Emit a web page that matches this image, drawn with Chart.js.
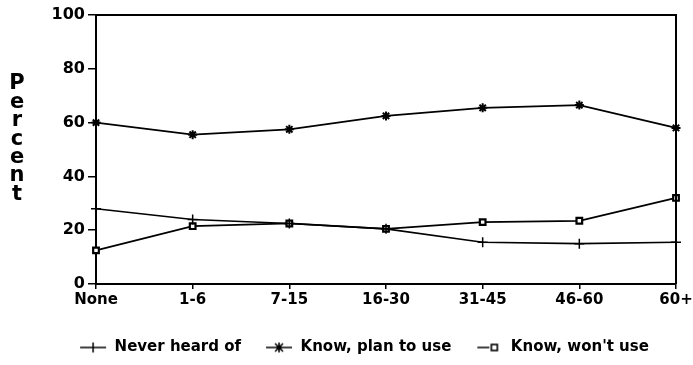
<!DOCTYPE html>
<html>
<head>
<meta charset="utf-8">
<script src="https://cdn.jsdelivr.net/npm/chart.js@4"></script>
<style>
  html, body { margin: 0; padding: 0; background: #fff; }
  #wrap { width: 693px; height: 365px; }
</style>
</head>
<body>
<div id="wrap"><canvas id="c" width="693" height="365"></canvas></div>
<script>
const categories = ['None', '1-6', '7-15', '16-30', '31-45', '46-60', '60+'];
const neverHeard = [28, 24, 22.5, 20.5, 15.5, 15, 15.5];
const planToUse = [60, 55.5, 57.5, 62.5, 65.5, 66.5, 58];
const wontUse = [12.5, 21.5, 22.5, 20.5, 23, 23.5, 32];
const seriesNames = ['Never heard of', 'Know, plan to use', "Know, won't use"];
const yTitle = 'Percent';

const FONT = '"DejaVu Sans", "Liberation Sans", sans-serif';

function legendIcon(kind) {
  const c = document.createElement('canvas');
  c.width = 28; c.height = 12;
  const g = c.getContext('2d');
  g.strokeStyle = '#000'; g.fillStyle = '#000'; g.lineWidth = 1.5;
  if (kind === 'rect') {
    g.beginPath(); g.moveTo(2, 6); g.lineTo(14, 6); g.stroke();
    g.lineWidth = 1.6; g.fillStyle = '#fff';
    g.fillRect(16, 3, 6, 6); g.strokeRect(16, 3, 6, 6);
  } else {
    g.beginPath(); g.moveTo(1, 6); g.lineTo(27, 6); g.stroke();
    g.beginPath(); g.moveTo(14, 1); g.lineTo(14, 11); g.stroke();
    if (kind === 'star') {
      g.beginPath(); g.arc(14, 6, 2.5, 0, Math.PI * 2); g.fill();
      g.beginPath(); g.moveTo(10, 2); g.lineTo(18, 10); g.moveTo(18, 2); g.lineTo(10, 10); g.stroke();
    }
  }
  return c;
}

const frame = {
  id: 'frame',
  afterLayout(chart) {
    const lg = chart.legend;
    if (lg) { lg.left += 26; lg.right += 26; }
  },
  afterDraw(chart) {
    const { ctx, chartArea: a } = chart;
    ctx.save();
    ctx.strokeStyle = '#000'; ctx.lineWidth = 2;
    ctx.beginPath();
    ctx.moveTo(a.left, a.top); ctx.lineTo(a.right, a.top); ctx.lineTo(a.right, a.bottom);
    ctx.stroke();
    ctx.fillStyle = '#000';
    ctx.font = 'bold 21px ' + FONT;
    ctx.textAlign = 'center'; ctx.textBaseline = 'middle';
    const letters = yTitle.split('');
    const step = 18.4, y0 = 84;
    letters.forEach((ch, i) => ctx.fillText(ch, 17, y0 + i * step));
    ctx.restore();
  }
};

new Chart(document.getElementById('c'), {
  type: 'line',
  data: {
    labels: categories,
    datasets: [
      { label: seriesNames[0], data: neverHeard, borderColor: '#000', backgroundColor: '#000', borderWidth: 1.6,
        pointStyle: 'cross', pointRadius: 5, pointBorderWidth: 1.5, tension: 0, legendIcon: legendIcon('cross') },
      { label: seriesNames[1], data: planToUse, borderColor: '#000', backgroundColor: '#000', borderWidth: 1.8,
        pointStyle: 'star', pointRadius: 4.5, pointBorderWidth: 2, tension: 0, legendIcon: legendIcon('star') },
      { label: seriesNames[2], data: wontUse, borderColor: '#000', backgroundColor: '#fff', borderWidth: 1.8,
        pointStyle: 'rect', pointRadius: 4, pointBorderWidth: 2.2, tension: 0, legendIcon: legendIcon('rect') }
    ]
  },
  options: {
    responsive: false,
    animation: false,
    layout: { padding: { left: 0, right: 17, top: 15, bottom: 0 } },
    plugins: {
      tooltip: { enabled: false },
      legend: {
        position: 'bottom',
        labels: {
          color: '#000',
          font: { family: FONT, size: 15, weight: 'bold' },
          usePointStyle: true,
          pointStyleWidth: 28,
          boxHeight: 12,
          padding: 24,
          generateLabels(chart) {
            return chart.data.datasets.map((ds, i) => ({
              text: ds.label, pointStyle: ds.legendIcon, fillStyle: '#000', strokeStyle: '#000',
              lineWidth: 0, hidden: false, datasetIndex: i, fontColor: '#000'
            }));
          }
        }
      }
    },
    scales: {
      x: {
        type: 'category',
        offset: false,
        grid: { drawOnChartArea: false, drawTicks: true, tickLength: 5, color: '#000', lineWidth: 1.5 },
        border: { color: '#000', width: 2 },
        ticks: { color: '#000', font: { family: FONT, size: 15, weight: 'bold' }, padding: 2, maxRotation: 0, autoSkip: false },
        afterFit(scale) { scale.height = 32; scale.paddingRight = 0; scale.paddingLeft = 0; }
      },
      y: {
        min: 0, max: 100,
        grid: { drawOnChartArea: false, drawTicks: true, tickLength: 8, color: '#000', lineWidth: 1.5 },
        border: { color: '#000', width: 2 },
        ticks: { stepSize: 20, color: '#000', font: { family: FONT, size: 16, weight: 'bold' }, padding: 3 },
        afterFit(scale) { scale.width = 96; }
      }
    }
  },
  plugins: [frame]
});
</script>
</body>
</html>
